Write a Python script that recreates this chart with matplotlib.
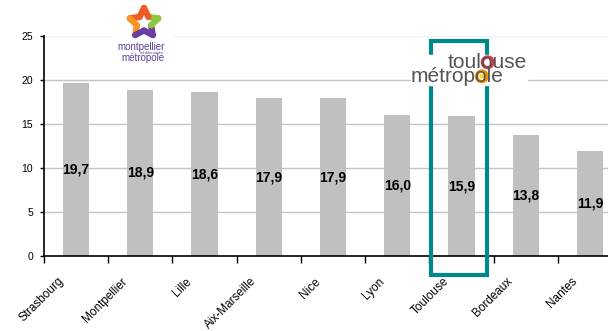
import matplotlib
matplotlib.use("Agg")
import numpy as np
import matplotlib.pyplot as plt
import matplotlib.transforms as mtransforms
from matplotlib.patches import Rectangle, Circle
from matplotlib.collections import LineCollection

plt.rcParams['font.family'] = ['Liberation Sans', 'DejaVu Sans']

villes = ['Strasbourg', 'Montpellier', 'Lille', 'Aix-Marseille', 'Nice',
          'Lyon', 'Toulouse', 'Bordeaux', 'Nantes']
valeurs = [19.7, 18.9, 18.6, 17.9, 17.9, 16.0, 15.9, 13.8, 11.9]
etiquettes = ['19,7', '18,9', '18,6', '17,9', '17,9', '16,0', '15,9', '13,8', '11,9']
yticks = [0, 5, 10, 15, 20, 25]

fig = plt.figure(figsize=(6.08, 3.31), dpi=100)
# axes run past the right edge of the picture, like the original
ax = fig.add_axes([44/608, 1 - 256/331, 578/608, 220/331])

x = list(range(len(villes)))
ax.bar(x, valeurs, width=0.41, color='#c0c0c0', zorder=2)
for xi, v, lab in zip(x, valeurs, etiquettes):
    ax.text(xi, v / 2, lab, ha='center', va='center', fontsize=10,
            fontweight='bold', color='black', zorder=3)

ax.set_xlim(-0.5, len(villes) - 0.5)
ax.set_ylim(0, 25)

# grid
for yv in yticks[1:]:
    ax.axhline(yv, color='#f0f0f0' if yv == 25 else '#c4c4c4', lw=1, zorder=1)

ax.spines['top'].set_visible(False)
ax.spines['right'].set_visible(False)
ax.spines['left'].set_linewidth(1.2)
ax.spines['bottom'].set_linewidth(1.2)

ax.set_yticks(yticks)
ax.set_yticklabels([str(t) for t in yticks], fontsize=7.5)
ax.tick_params(axis='y', length=3, width=1, pad=5)

ax.set_xticks([i - 0.5 for i in range(len(villes) + 1)])
ax.set_xticklabels([])
ax.tick_params(axis='x', which='major', length=5, width=1)
ax.set_xticks(x, minor=True)
ax.set_xticklabels(villes, minor=True, rotation=45, ha='right',
                   rotation_mode='anchor', fontsize=8.5)
ax.tick_params(axis='x', which='minor', length=0, pad=14)
off = mtransforms.ScaledTranslation(-19/100, 0, fig.dpi_scale_trans)
for lbl in ax.get_xticklabels(minor=True):
    lbl.set_transform(lbl.get_transform() + off)

# Toulouse frame
ax.add_patch(Rectangle((5.53, -2.2), 0.87, 26.6, fill=False, edgecolor='#00898a',
                       lw=3, clip_on=False, zorder=4))

# logos, drawn on an overlay in pixel coordinates
lg = fig.add_axes([0, 0, 1, 1], zorder=10)
lg.axis('off')
lg.set_xlim(0, 608)
lg.set_ylim(331, 0)
lg.patch.set_alpha(0)
renderer = fig.canvas.get_renderer()


def centre_lettre(x0, y0, mot, i, fs):
    # x centre (in overlay coords) of letter i of a word drawn at x0
    xs = []
    for n in (i, i + 1):
        t = lg.text(x0, y0, mot[:n], fontsize=fs, ha='left', va='baseline')
        xs.append(t.get_window_extent(renderer).x1)
        t.remove()
    xd = (xs[0] + xs[1]) / 2
    return lg.transData.inverted().transform((xd, 0))[0]


# Toulouse Métropole
lg.add_patch(Rectangle((411, 55), 116, 30, color='white'))
gris = '#555555'
fs = 15
lg.text(448, 68, 'toulouse', fontsize=fs, color=gris, va='baseline', ha='left')
lg.text(411, 82, 'métropole', fontsize=fs, color=gris, va='baseline', ha='left')
xo = centre_lettre(448, 68, 'toulouse', 4, fs)
lg.add_patch(Circle((xo, 62.3), 5.3, facecolor='white', edgecolor='#e8304a', lw=2.4))
xo = centre_lettre(411, 82, 'métropole', 6, fs)
lg.add_patch(Circle((xo, 76.3), 5.3, facecolor='white', edgecolor='#f39200', lw=2.4))
lg.add_patch(Circle((xo, 76.3), 2.5, facecolor='#fdd835', edgecolor='none'))

# Montpellier Méditerranée Métropole
lg.add_patch(Rectangle((113, 3), 60, 62, color='white'))
cx, cy = 144, 23
ang = np.deg2rad(90 + 36 * np.arange(11))
rad = np.where(np.arange(11) % 2 == 0, 15, 7.5)
px = cx + rad * np.cos(ang)
py = cy - rad * np.sin(ang)
segs = [np.column_stack([px[i:i + 2], py[i:i + 2]]) for i in range(10)]
cols = ['#f15a24', '#f15a24', '#f7931e', '#f7931e', '#6b3fa0',
        '#6b3fa0', '#6b3fa0', '#8dc63f', '#8dc63f', '#f15a24']
lg.add_collection(LineCollection(segs, colors=cols, linewidths=4.5,
                                 capstyle='round', joinstyle='round'))
lg.text(141, 47, 'montpellier', fontsize=7, color='#5b3f99',
        ha='center', va='center')
lg.text(152, 52.5, 'méditerranée', fontsize=3, color='#5b3f99',
        ha='center', va='center')
lg.text(143, 58, 'métropole', fontsize=7, color='#5b3f99',
        ha='center', va='center')

fig.savefig('out.png', dpi=100)
